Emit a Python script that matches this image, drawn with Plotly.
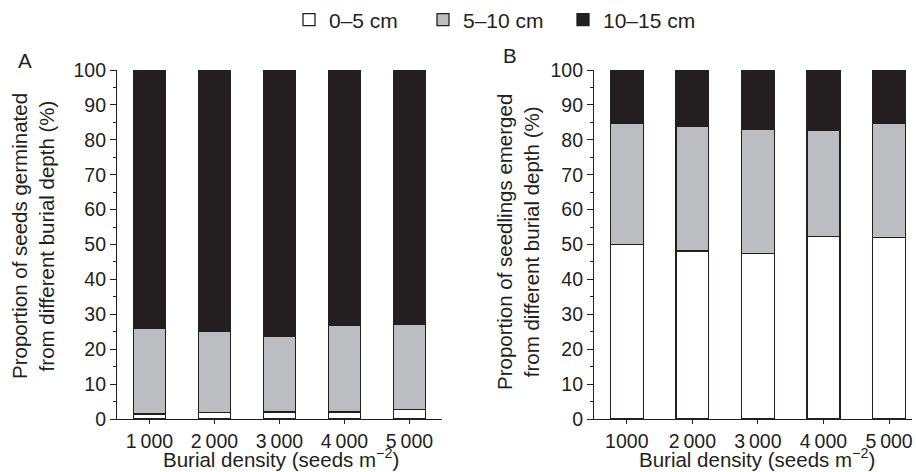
import plotly.graph_objects as go

# ---- data ----
ticks_A = ["1\u2009000", "2\u2009000", "3\u2009000", "4\u2009000", "5\u2009000"]
ticks_B = ["1000", "2\u2009000", "3\u2009000", "4\u2009000", "5\u2009000"]

depths = ["0–5 cm", "5–10 cm", "10–15 cm"]

# Panel A: proportion of seeds germinated (%)
A_0_5 = [1.4, 1.8, 2.0, 2.0, 2.8]
A_5_10 = [24.7, 23.2, 21.6, 24.7, 24.2]
A_10_15 = [73.9, 75.0, 76.4, 73.3, 73.0]

# Panel B: proportion of seedlings emerged (%)
B_0_5 = [50.0, 48.1, 47.4, 52.3, 52.1]
B_5_10 = [34.6, 35.8, 35.5, 30.3, 32.5]
B_10_15 = [15.4, 16.1, 17.1, 17.4, 15.4]

colors = ["#ffffff", "#bcbdc0", "#231f20"]
legend_widths = [89, 95, 95]
line_col = "#231f20"
font_family = "Liberation Sans, Arial, sans-serif"

fig = go.Figure()

for vals, name, col, lw in zip([A_0_5, A_5_10, A_10_15], depths, colors, legend_widths):
    fig.add_trace(go.Bar(x=ticks_A, y=vals, name=name, width=0.5, legendwidth=lw,
                         marker=dict(color=col, line=dict(color=line_col, width=1.3)),
                         xaxis="x", yaxis="y", showlegend=True))
for vals, name, col in zip([B_0_5, B_5_10, B_10_15], depths, colors):
    fig.add_trace(go.Bar(x=ticks_B, y=vals, name=name, width=0.5,
                         marker=dict(color=col, line=dict(color=line_col, width=1.3)),
                         xaxis="x2", yaxis="y2", showlegend=False))

W, H = 916, 472
def fx(px): return px / W
def fy(py): return (H - py) / H

TICK = 19.5
TITLE = 20.5

yax = dict(range=[0, 100], tickvals=list(range(0, 101, 10)), ticks="outside", ticklen=6,
           tickwidth=1.2, tickcolor=line_col, showline=True, linecolor=line_col, linewidth=1.2,
           showgrid=False, zeroline=False, tickfont=dict(size=TICK, color=line_col), automargin=False,
           minor=dict(ticks="outside", ticklen=3, tickcolor=line_col, dtick=5, tickwidth=1.2, showgrid=False))
xax = dict(type="category", ticks="outside", ticklen=4, tickwidth=1.2, tickcolor=line_col,
           showline=True, linecolor=line_col, linewidth=1.2, showgrid=False, zeroline=False,
           tickfont=dict(size=TICK, color=line_col), automargin=False)

def ann(text, px, py, angle=0):
    return dict(text=text, x=fx(px), y=fy(py), xref="paper", yref="paper", showarrow=False,
                xanchor="center", yanchor="middle", textangle=angle, font=dict(size=TITLE))

fig.update_layout(
    width=W, height=H,
    margin=dict(l=0, r=0, t=0, b=0, autoexpand=False),
    paper_bgcolor="white", plot_bgcolor="white",
    font=dict(family=font_family, size=TITLE, color=line_col),
    barmode="stack",
    bargap=0.5,
    xaxis=dict(xax, domain=[fx(117), fx(442)], range=[-0.5, 4.5], anchor="y"),
    yaxis=dict(yax, domain=[fy(419), fy(70)], anchor="x"),
    xaxis2=dict(xax, domain=[fx(594), fx(912)], range=[-0.5, 4.35], anchor="y2"),
    yaxis2=dict(yax, domain=[fy(419), fy(70)], anchor="x2"),
    legend=dict(orientation="h", x=fx(289), y=fy(20), xanchor="left", yanchor="middle",
                font=dict(size=21, color=line_col), traceorder="normal",
                bgcolor="rgba(0,0,0,0)"),
    annotations=[
        ann("A", 25, 61),
        ann("B", 510, 55),
        ann("Proportion of seeds germinated<br>from different burial depth (%)", 33, 236, -90),
        ann("Proportion of seedlings emerged<br>from different burial depth (%)", 518, 242, -90),
        ann("Burial density (seeds m<sup>−2</sup>)", 281, 458),
        ann("Burial density (seeds m<sup>−2</sup>)", 757, 458),
    ],
)

fig.write_html("out.html", post_script="document.body.style.margin='0';",
               config={"displayModeBar": False})
